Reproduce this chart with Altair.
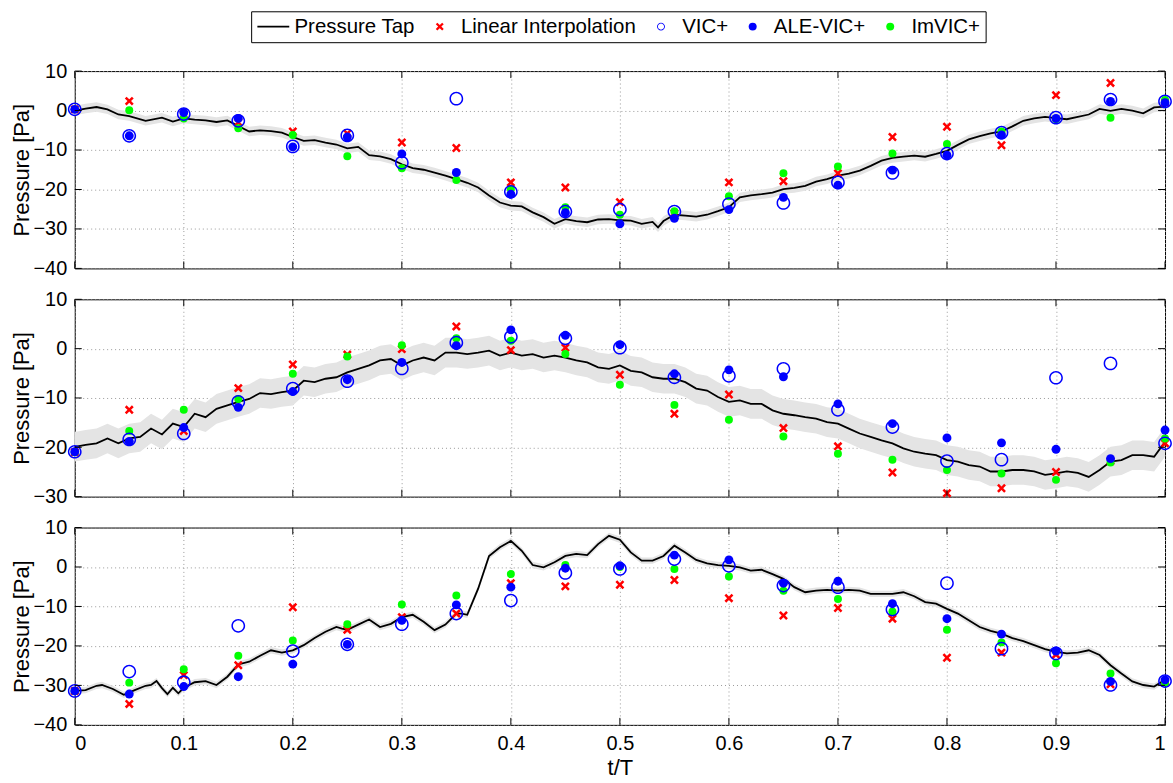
import altair as alt
import pandas as pd

FONT = "Liberation Sans"

# ---------------- data ----------------
SERIES = ["Pressure Tap", "Linear Interpolation", "VIC+", "ALE-VIC+", "ImVIC+"]
SERIES_COLORS = ["#000000", "#ff0000", "#0000ff", "#0000ff", "#00ff00"]

T_MARK = [0.0, 0.05, 0.1, 0.15, 0.2, 0.25, 0.3, 0.35, 0.4, 0.45, 0.5,
          0.55, 0.6, 0.65, 0.7, 0.75, 0.8, 0.85, 0.9, 0.95, 1.0]

X_TICKS = [0.0, 0.1, 0.2, 0.3, 0.4, 0.5, 0.6, 0.7, 0.8, 0.9, 1.0]
Y_TICKS = [[-40, -30, -20, -10, 0, 10],
           [-30, -20, -10, 0, 10],
           [-40, -30, -20, -10, 0, 10]]
Y_DOMAINS = [[-40, 10], [-30, 10], [-40, 10]]

# panel 1
LIN_1 = [0.3, 2.4, -1.0, -3.0, -5.3, -5.8, -8.1, -9.5, -18.2, -19.5, -23.2,
         -26.0, -18.2, -17.9, -15.9, -6.7, -4.1, -8.8, 3.9, 7.0, 2.0]
VIC_1 = [0.3, -6.4, -0.9, -2.6, -9.1, -6.3, -13.2, 3.0, -20.6, -25.6, -25.1,
         -25.6, -23.7, -23.4, -18.2, -15.8, -10.9, -5.6, -1.8, 2.8, 2.3]
ALE_1 = [0.3, -6.4, -0.5, -2.0, -9.2, -6.7, -11.0, -15.7, -21.2, -25.9, -28.7,
         -27.3, -25.1, -22.0, -18.9, -15.1, -11.3, -6.2, -2.0, 2.3, 2.0]
IMV_1 = [0.3, 0.1, -2.0, -4.5, -6.2, -11.6, -14.6, -17.6, -19.9, -24.5, -26.4,
         -25.5, -21.7, -15.9, -14.2, -10.9, -8.5, -5.3, -2.2, -1.8, 2.7]

# panel 2
LIN_2 = [-21.0, -12.4, -16.7, -8.0, -3.2, -1.2, -0.1, 4.5, -0.3, 0.2, -5.3,
         -13.2, -9.3, -16.1, -19.8, -25.1, -29.3, -28.3, -25.0, -22.8, -19.2]
VIC_2 = [-20.9, -18.4, -17.2, -10.8, -8.1, -6.6, -4.0, 1.2, 2.4, 2.1, 0.2,
         -5.8, -5.5, -4.1, -12.4, -15.9, -22.8, -22.5, -5.9, -3.0, -19.2]
ALE_2 = [-20.9, -18.8, -16.0, -11.9, -8.7, -6.3, -2.8, 0.6, 3.8, 2.7, 0.8,
         -5.1, -4.3, -5.7, -11.2, -15.2, -18.1, -19.1, -20.4, -22.3, -16.5]
IMV_2 = [-21.0, -16.7, -12.4, -10.2, -5.1, -1.6, 0.7, 2.1, 1.6, -1.1, -7.3,
         -11.4, -14.4, -17.8, -21.3, -22.5, -24.6, -25.3, -26.6, -23.1, -18.2]

# panel 3
LIN_3 = [-31.4, -34.7, -27.4, -24.9, -10.2, -15.9, -12.7, -11.8, -4.1, -4.9, -4.5,
         -3.3, -7.9, -12.3, -10.4, -13.1, -23.0, -21.7, -22.2, -29.7, -29.0]
VIC_3 = [-31.4, -26.5, -29.2, -14.9, -21.3, -19.6, -14.5, -11.8, -8.5, -1.5, -0.5,
         2.0, 0.3, -4.7, -5.1, -10.8, -4.1, -20.7, -21.9, -29.9, -28.9]
ALE_3 = [-31.4, -32.2, -30.3, -27.8, -24.6, -19.6, -13.5, -9.6, -5.1, -0.3, 0.3,
         3.0, 1.8, -4.1, -3.6, -9.3, -13.1, -17.0, -21.3, -29.0, -28.6]
IMV_3 = [-31.4, -29.3, -25.9, -22.5, -18.6, -14.5, -9.5, -7.2, -1.8, 0.5, 0.0,
         -0.5, -2.4, -6.0, -8.1, -11.3, -15.9, -19.1, -24.4, -27.0, -29.3]

# pressure-tap traces
TAP_T_1 = [0.0, 0.01, 0.02, 0.03, 0.04, 0.05, 0.065, 0.08, 0.09, 0.1, 0.11, 0.12, 0.13,
           0.14, 0.15, 0.16, 0.17, 0.18, 0.19, 0.2, 0.21, 0.22, 0.23, 0.24, 0.25, 0.26,
           0.27, 0.28, 0.29, 0.3, 0.31, 0.32, 0.33, 0.34, 0.35, 0.36, 0.37, 0.38, 0.39,
           0.4, 0.41, 0.42, 0.43, 0.44, 0.45, 0.46, 0.47, 0.48, 0.49, 0.5, 0.51, 0.52,
           0.53, 0.535, 0.54, 0.55, 0.56, 0.57, 0.58, 0.59, 0.6, 0.61, 0.62, 0.63, 0.64,
           0.65, 0.66, 0.67, 0.68, 0.69, 0.7, 0.71, 0.72, 0.73, 0.74, 0.75, 0.76, 0.77,
           0.78, 0.79, 0.8, 0.81, 0.82, 0.83, 0.84, 0.85, 0.86, 0.87, 0.88, 0.89, 0.9,
           0.91, 0.92, 0.93, 0.94, 0.95, 0.96, 0.97, 0.98, 0.99, 1.0]
TAP_P_1 = [0.0, 0.5, 0.9, 0.3, -1.0, -1.4, -2.6, -1.8, -2.8, -2.0, -2.3, -2.5, -2.9,
           -2.5, -3.9, -5.3, -5.0, -5.2, -5.6, -6.7, -7.7, -7.5, -8.1, -8.6, -9.6, -9.2,
           -11.3, -11.6, -12.3, -13.6, -14.6, -15.0, -15.7, -16.5, -17.4, -18.3, -19.5,
           -21.5, -23.3, -24.1, -24.3, -25.8, -27.0, -28.7, -27.5, -28.0, -28.3, -27.6,
           -27.5, -27.8, -27.9, -28.7, -28.2, -29.6, -28.0, -26.4, -26.6, -26.9, -26.4,
           -25.5, -24.5, -22.0, -21.5, -21.2, -20.8, -19.9, -19.6, -19.1, -18.0, -17.4,
           -16.5, -16.0, -15.2, -14.0, -12.7, -12.0, -11.7, -11.4, -11.7, -11.0, -10.2,
           -8.7, -7.3, -6.5, -5.8, -5.3, -4.0, -2.6, -2.0, -1.6, -1.9, -2.2, -1.6, -1.0,
           0.4, -0.1, 0.4, 0.0, -0.7, 0.8, 1.0]

TAP_T_2 = [0.0, 0.01, 0.02, 0.03, 0.04, 0.05, 0.06, 0.07, 0.08, 0.09, 0.1, 0.11, 0.12,
           0.13, 0.14, 0.15, 0.16, 0.17, 0.18, 0.19, 0.2, 0.21, 0.22, 0.23, 0.24, 0.25,
           0.26, 0.27, 0.28, 0.29, 0.3, 0.31, 0.32, 0.33, 0.34, 0.35, 0.36, 0.37, 0.38,
           0.39, 0.4, 0.41, 0.42, 0.43, 0.44, 0.45, 0.46, 0.47, 0.48, 0.49, 0.5, 0.51,
           0.52, 0.53, 0.54, 0.55, 0.56, 0.57, 0.58, 0.59, 0.6, 0.61, 0.62, 0.63, 0.64,
           0.65, 0.66, 0.67, 0.68, 0.69, 0.7, 0.71, 0.72, 0.73, 0.74, 0.75, 0.76, 0.77,
           0.78, 0.79, 0.8, 0.81, 0.82, 0.83, 0.84, 0.85, 0.86, 0.87, 0.88, 0.89, 0.9,
           0.91, 0.92, 0.93, 0.94, 0.95, 0.96, 0.97, 0.98, 0.99, 1.0]
TAP_P_2 = [-19.9, -19.5, -19.2, -18.2, -19.2, -18.2, -17.9, -16.2, -17.4, -15.2, -15.9,
           -13.2, -13.9, -12.2, -11.5, -10.8, -10.2, -9.0, -9.2, -8.8, -8.5, -6.5, -6.8,
           -6.1, -5.8, -4.8, -4.1, -3.4, -2.4, -2.1, -3.4, -2.4, -1.8, -2.4, -0.8, -0.8,
           -1.1, -0.8, -0.4, -1.4, -0.8, -1.4, -1.1, -1.8, -1.4, -1.8, -2.4, -2.8, -3.8,
           -4.1, -3.4, -4.5, -4.8, -5.8, -6.1, -6.1, -6.8, -8.1, -8.5, -9.8, -10.8, -10.5,
           -11.2, -11.2, -12.5, -13.2, -13.5, -13.9, -14.2, -14.9, -15.2, -16.2, -17.2,
           -17.9, -18.6, -19.2, -20.2, -20.9, -21.3, -21.6, -22.6, -22.9, -23.6, -23.9,
           -24.9, -24.9, -24.6, -24.6, -24.9, -25.6, -25.3, -24.9, -25.2, -26.0, -24.6,
           -22.9, -22.6, -21.6, -21.6, -21.9, -18.9]

TAP_T_3 = [0.0, 0.01, 0.02, 0.025, 0.035, 0.045, 0.055, 0.065, 0.07, 0.075, 0.08, 0.085,
           0.09, 0.095, 0.1, 0.11, 0.12, 0.13, 0.14, 0.15, 0.16, 0.17, 0.18, 0.19, 0.2,
           0.21, 0.22, 0.23, 0.24, 0.245, 0.25, 0.26, 0.27, 0.28, 0.29, 0.3, 0.31, 0.32,
           0.33, 0.34, 0.35, 0.355, 0.36, 0.37, 0.38, 0.39, 0.4, 0.41, 0.42, 0.43, 0.44,
           0.45, 0.46, 0.47, 0.48, 0.49, 0.5, 0.51, 0.52, 0.53, 0.54, 0.55, 0.56, 0.57,
           0.58, 0.59, 0.6, 0.61, 0.62, 0.63, 0.64, 0.65, 0.66, 0.67, 0.68, 0.69, 0.7,
           0.71, 0.72, 0.73, 0.74, 0.75, 0.76, 0.77, 0.78, 0.79, 0.8, 0.81, 0.82, 0.83,
           0.84, 0.85, 0.86, 0.87, 0.88, 0.89, 0.9, 0.91, 0.92, 0.93, 0.94, 0.95, 0.96,
           0.97, 0.98, 0.99, 1.0]
TAP_P_3 = [-31.4, -31.2, -30.1, -29.9, -30.9, -32.4, -31.2, -30.1, -29.9, -28.9, -30.7,
           -32.2, -30.6, -32.0, -30.6, -29.2, -28.9, -29.9, -27.8, -24.7, -24.0, -22.5,
           -21.1, -21.7, -21.1, -19.8, -18.0, -16.4, -15.2, -15.6, -15.9, -14.6, -13.3,
           -15.2, -14.4, -12.7, -12.1, -13.9, -16.0, -14.6, -11.8, -11.8, -12.1, -5.5,
           2.8, 5.0, 6.6, 4.1, 0.5, -0.1, 1.2, 2.8, 3.3, 3.0, 5.8, 7.9, 6.9, 3.7, 1.6,
           1.6, 2.8, 5.4, 3.7, 1.8, 0.9, 0.5, 0.3, -0.1, -0.9, -0.7, -1.8, -3.0, -5.1,
           -6.4, -6.0, -5.8, -6.0, -5.8, -6.0, -6.8, -6.8, -6.8, -6.4, -7.4, -8.9, -9.3,
           -10.6, -11.8, -13.5, -15.2, -16.2, -16.9, -18.0, -18.8, -19.8, -20.8, -21.5,
           -21.9, -21.7, -21.1, -22.3, -24.9, -27.0, -29.0, -29.9, -30.3, -28.6]

BAND_HALF = [1.2, 3.0, 0.8]   # half-width of the grey uncertainty band (Pa)

TAP_T = [TAP_T_1, TAP_T_2, TAP_T_3]
TAP_P = [TAP_P_1, TAP_P_2, TAP_P_3]
MARKERS = [
    {"Linear Interpolation": LIN_1, "VIC+": VIC_1, "ALE-VIC+": ALE_1, "ImVIC+": IMV_1},
    {"Linear Interpolation": LIN_2, "VIC+": VIC_2, "ALE-VIC+": ALE_2, "ImVIC+": IMV_2},
    {"Linear Interpolation": LIN_3, "VIC+": VIC_3, "ALE-VIC+": ALE_3, "ImVIC+": IMV_3},
]

# ---------------- styling ----------------
W, H = 1094, 198
LINE_PATH = "M-4,-0.22H4V0.22H-4Z"
X_PATH = ("M-1,-0.6L-0.6,-1L0,-0.4L0.6,-1L1,-0.6L0.4,0L1,0.6L0.6,1L0,0.4"
          "L-0.6,1L-1,0.6L-0.4,0Z")
RING_PATH = ("M0,-1A1,1 0 1,1 0,1A1,1 0 1,1 0,-1Z"
             "M0,-0.78A0.78,0.78 0 1,0 0,0.78A0.78,0.78 0 1,0 0,-0.78Z")
SHAPES = [LINE_PATH, X_PATH, RING_PATH, "circle", "circle"]
DRAW_ORDER = [("Linear Interpolation", 80), ("ImVIC+", 64), ("VIC+", 190), ("ALE-VIC+", 80)]

color_scale = alt.Scale(domain=SERIES, range=SERIES_COLORS)
shape_scale = alt.Scale(domain=SERIES, range=SHAPES)
legend = alt.Legend(orient="none", legendX=177, legendY=-60, direction="horizontal",
                    title=None, labelLimit=0)


def panel(k, last):
    xscale = alt.Scale(domain=[0, 1], nice=False, zero=False)
    yscale = alt.Scale(domain=Y_DOMAINS[k], nice=False, zero=False)
    if last:
        xaxis = alt.Axis(values=X_TICKS, format="~g", title="t/T", grid=True,
                         labelPadding=9, titlePadding=4, domain=False)
    else:
        xaxis = alt.Axis(values=X_TICKS, labels=False, title=None, grid=True, domain=False,
                         minExtent=0, maxExtent=0, labelPadding=0)
    yaxis = alt.Axis(values=Y_TICKS[k], title="Pressure [Pa]", grid=True, labelPadding=8,
                     titlePadding=3, minExtent=38, maxExtent=38, domain=False)

    def X(field):
        return alt.X(field, scale=xscale, axis=xaxis)

    def Y(field):
        return alt.Y(field, scale=yscale, axis=yaxis)

    tap = pd.DataFrame({"t": TAP_T[k], "p": TAP_P[k]})
    tap["lo"] = tap["p"] - BAND_HALF[k]
    tap["hi"] = tap["p"] + BAND_HALF[k]

    band = alt.Chart(tap).mark_area(color="#e4e4e4").encode(
        x=X("t:Q"), y=Y("lo:Q"), y2="hi:Q")
    line = alt.Chart(tap).mark_line(color="black", strokeWidth=1.8).encode(
        x=X("t:Q"), y=Y("p:Q"))

    layers = [band, line]
    for name, size in DRAW_ORDER:
        df = pd.DataFrame({"t": T_MARK, "v": MARKERS[k][name], "series": name})
        layers.append(
            alt.Chart(df).mark_point(filled=True, opacity=1, size=size, strokeWidth=0).encode(
                x=X("t:Q"), y=Y("v:Q"),
                color=alt.Color("series:N", scale=color_scale, legend=legend),
                shape=alt.Shape("series:N", scale=shape_scale, legend=legend),
            )
        )

    xt = pd.DataFrame({"t": X_TICKS})
    yt = pd.DataFrame({"v": Y_TICKS[k]})
    tick_len = 7
    layers += [
        alt.Chart(xt).mark_rule(color="black", strokeWidth=1).encode(
            x=X("t:Q"), y=alt.value(H), y2=alt.value(H - tick_len)),
        alt.Chart(xt).mark_rule(color="black", strokeWidth=1).encode(
            x=X("t:Q"), y=alt.value(0), y2=alt.value(tick_len)),
        alt.Chart(yt).mark_rule(color="black", strokeWidth=1).encode(
            y=Y("v:Q"), x=alt.value(0), x2=alt.value(tick_len)),
        alt.Chart(yt).mark_rule(color="black", strokeWidth=1).encode(
            y=Y("v:Q"), x=alt.value(W - tick_len), x2=alt.value(W)),
    ]
    return alt.layer(*layers).properties(width=W, height=H)


chart = alt.vconcat(panel(0, False), panel(1, False), panel(2, True), spacing=9).properties(
    padding={"left": 10, "top": 9, "right": 0, "bottom": 1}
).configure_view(
    stroke="black", strokeWidth=1
).configure_axis(
    labelFont=FONT, labelFontSize=20, labelColor="black",
    titleFont=FONT, titleFontSize=22, titleFontWeight="normal", titleColor="black",
    gridColor="#9a9a9a", gridDash=[1, 3], gridWidth=1, ticks=False,
).configure_legend(
    strokeColor="black", fillColor="white", padding=5, cornerRadius=0,
    labelFont=FONT, labelFontSize=20.5, labelColor="black",
    symbolSize=64, symbolOffset=7, labelOffset=11, columnPadding=7,
    symbolStrokeWidth=0,
)

chart.save("out.html", embed_options={"renderer": "svg", "actions": False})
